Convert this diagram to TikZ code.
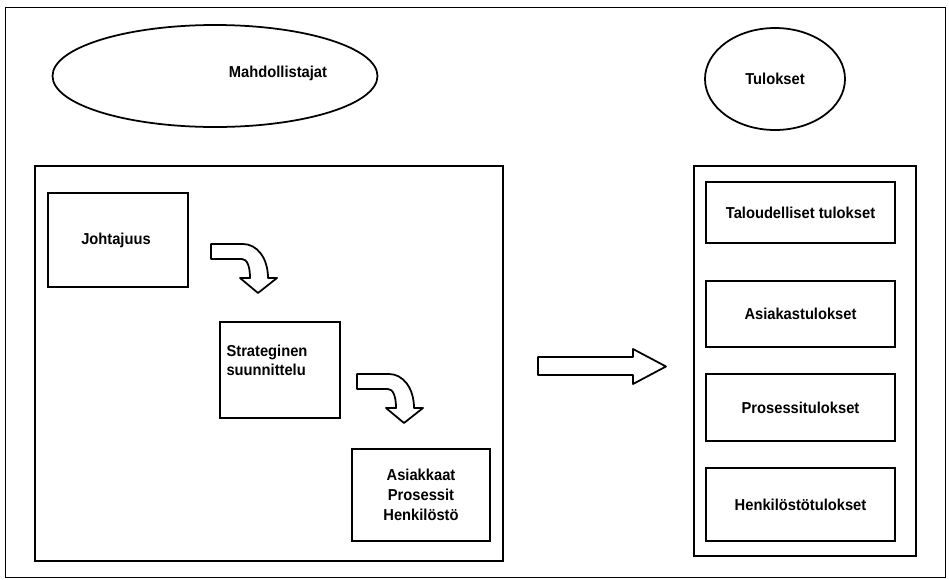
\documentclass[tikz,border=0pt]{standalone}
\usepackage{fontspec}
\setmainfont{Liberation Sans}[FakeStretch=0.93]
\usetikzlibrary{shapes.geometric}
\begin{document}
\begin{tikzpicture}[x=0.03cm,y=-0.03cm,
  sized/.style 2 args={minimum width=#1*0.03cm, minimum height=#2*0.03cm},
  box/.style={draw, line width=1.5pt, inner sep=0pt},
  oval/.style={draw, ellipse, line width=1.5pt, inner sep=0pt},
  txt/.style={font=\fontsize{13.5}{16}\selectfont\bfseries, align=center, inner sep=0pt},
  hollow/.style={draw, line width=1.5pt, line join=round, fill=white},
  pics/bentarrow/.style={code={
    \path[hollow] (0,0) -- (32,0) .. controls (46,0) and (57,14) .. (57,34)
      -- (66,34) -- (47,49) -- (29,34) -- (39,34)
      .. controls (39,22) and (36,15) .. (31,15) -- (0,15) -- cycle;
  }}]
\useasboundingbox (0,0) rectangle (949,579);

% outer frame
\node[draw, line width=0.8pt, sized={940}{570}, inner sep=0pt] (frame) at (475,292) {};

% headings
\node[oval, sized={325}{102}] (enablers) at (215,76) {};
\node[txt] (enablerstxt) at (278,73) {Mahdollistajat};
\node[oval, sized={140}{102}] (results) at (775,79) {};
\node[txt] (resultstxt) at (775,79) {Tulokset};

% containers
\node[box, sized={468}{395}] (left) at (269,363.5) {};
\node[box, sized={222}{390}] (right) at (805,361) {};

% enablers column
\node[box, sized={140}{94}] (lead) at (118,240) {};
\node[txt] (leadtxt) at (116,240) {Johtajuus};
\node[box, sized={120}{96}] (plan) at (280,370) {};
\node[txt, align=left] (plantxt) at (267,360) {Strateginen\\suunnittelu};
\node[box, sized={138}{92}, txt, font=\fontsize{13.5}{17}\selectfont\bfseries] (people) at (421,495) {Asiakkaat\\Prosessit\\Henkilöstö};

% results column
\node[box, txt, sized={189}{61}] (fin) at (800.5,212.5) {Taloudelliset tulokset};
\node[box, txt, sized={189}{66}] (cust) at (800.5,314) {Asiakastulokset};
\node[box, txt, sized={189}{67}] (proc) at (800.5,407.5) {Prosessitulokset};
\node[box, txt, sized={189}{73}] (staff) at (800.5,504.5) {Henkilöstötulokset};

% bent arrows between the steps
\pic at (211,244) {bentarrow};
\pic at (357,374) {bentarrow};

% block arrow from enablers to results
\path[hollow] (538,357) -- (633,357) -- (633,349) -- (666,366.5)
  -- (633,384) -- (633,375) -- (538,375) -- cycle;
\end{tikzpicture}
\end{document}
